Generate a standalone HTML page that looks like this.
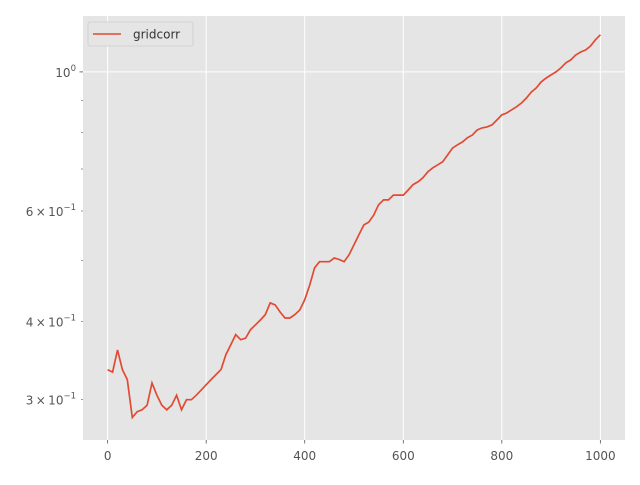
<!DOCTYPE html>
<html><head><meta charset="utf-8"><style>
body{margin:0;background:#fff;}
svg text{font-family:"DejaVu Sans","Liberation Sans",sans-serif;}
</style></head><body>
<svg width="640" height="480" viewBox="0 0 640 480" id="chart">
<rect x="0" y="0" width="640" height="480" fill="#fff"/>
<rect x="83" y="16" width="542" height="424" fill="#e5e5e5"/>
<g id="grid"></g>
<g id="axes"></g>
<polyline id="line" fill="none" stroke="#e24a33" stroke-width="1.7"/>
<g>
<rect x="88" y="22" width="105" height="24" rx="2" fill="#e5e5e5" stroke="#ccc" stroke-width="0.8"/>
<line x1="93" y1="34" x2="121" y2="34" stroke="#e24a33" stroke-width="1.5"/>
<text x="133" y="38.5" font-size="12" fill="#333">gridcorr</text>
</g>
</svg>
<script>
const steps = [0,10,20,30,40,50,60,70,80,90,100,110,120,130,140,150,160,170,180,190,200,210,220,230,240,250,260,270,280,290,300,310,320,330,340,350,360,370,380,390,400,410,420,430,440,450,460,470,480,490,500,510,520,530,540,550,560,570,580,590,600,610,620,630,640,650,660,670,680,690,700,710,720,730,740,750,760,770,780,790,800,810,820,830,840,850,860,870,880,890,900,910,920,930,940,950,960,970,980,990,1000];
const values = [.335,.332,.360,.335,.323,.281,.287,.289,.294,.319,.305,.294,.289,.294,.305,.289,.300,.300,.305,.311,.317,.323,.329,.335,.354,.367,.381,.374,.376,.388,.395,.402,.410,.428,.425,.414,.405,.405,.410,.417,.433,.457,.487,.498,.498,.498,.505,.502,.498,.511,.530,.550,.570,.576,.591,.614,.625,.625,.636,.636,.636,.648,.661,.668,.678,.693,.703,.711,.719,.737,.756,.765,.773,.785,.793,.808,.814,.817,.823,.838,.854,.860,.870,.880,.892,.909,.929,.943,.964,.978,.989,1.0,1.015,1.034,1.045,1.064,1.076,1.084,1.100,1.125,1.146];
const xTicks = [0,200,400,600,800,1000];
const yMajor = [1.0];
const yLabeled = [[0.3,"3"],[0.4,"4"],[0.6,"6"]];
const yMinor = [0.3,0.4,0.5,0.6,0.7,0.8,0.9];
const NS="http://www.w3.org/2000/svg";
const X0=83,X1=625,Y0=16,Y1=440, xmin=-50,xmax=1050, lmin=Math.log10(0.2587), lmax=Math.log10(1.228);
const sx=v=>X0+(v-xmin)/(xmax-xmin)*(X1-X0);
const sy=v=>Y1-(Math.log10(v)-lmin)/(lmax-lmin)*(Y1-Y0);
const grid=document.getElementById('grid'), axes=document.getElementById('axes');
function mk(tag,attrs,parent){const e=document.createElementNS(NS,tag);for(const k in attrs)e.setAttribute(k,attrs[k]);parent.appendChild(e);return e;}
xTicks.forEach(t=>{
  const g=mk('line',{x1:sx(t),x2:sx(t),y1:Y0,y2:Y1,stroke:'#fff','stroke-width':1},grid);
  
  
  const tk=mk('line',{x1:sx(t),x2:sx(t),y1:Y1,y2:Y1+3.5,stroke:'#555','stroke-width':0.8},axes);
  
  
  const tx=mk('text',{x:sx(t),y:Y1+20,'font-size':12,fill:'#555','text-anchor':'middle'},axes);
  tx.textContent=String(t);
  
  
});
yMajor.forEach(t=>{
  const g=mk('line',{x1:X0,x2:X1,y1:sy(t),y2:sy(t),stroke:'#fff','stroke-width':1},grid);
  
  
  const tk=mk('line',{x1:X0-3.5,x2:X0,y1:sy(t),y2:sy(t),stroke:'#555','stroke-width':0.8},axes);
  
  
  const tx=mk('text',{x:X0-7,y:sy(t)+5,'font-size':12,fill:'#555','text-anchor':'end'},axes);
  tx.innerHTML='10<tspan dy="-6" font-size="8.5">0</tspan>';
  
  
});
yMinor.forEach(t=>{
  const tk=mk('line',{x1:X0-2,x2:X0,y1:sy(t),y2:sy(t),stroke:'#555','stroke-width':0.6},axes);
  
  
});
yLabeled.forEach(([t,m])=>{
  const tx=mk('text',{x:X0-7,y:sy(t)+5,'font-size':12,fill:'#555','text-anchor':'end'},axes);
  tx.innerHTML=m+'\u2009×\u200910<tspan dy="-6" font-size="8.5">−1</tspan>';
  
  
});
document.getElementById('line').setAttribute('points',steps.map((s,i)=>sx(s).toFixed(1)+','+sy(values[i]).toFixed(1)).join(' '));
</script>
</body></html>
